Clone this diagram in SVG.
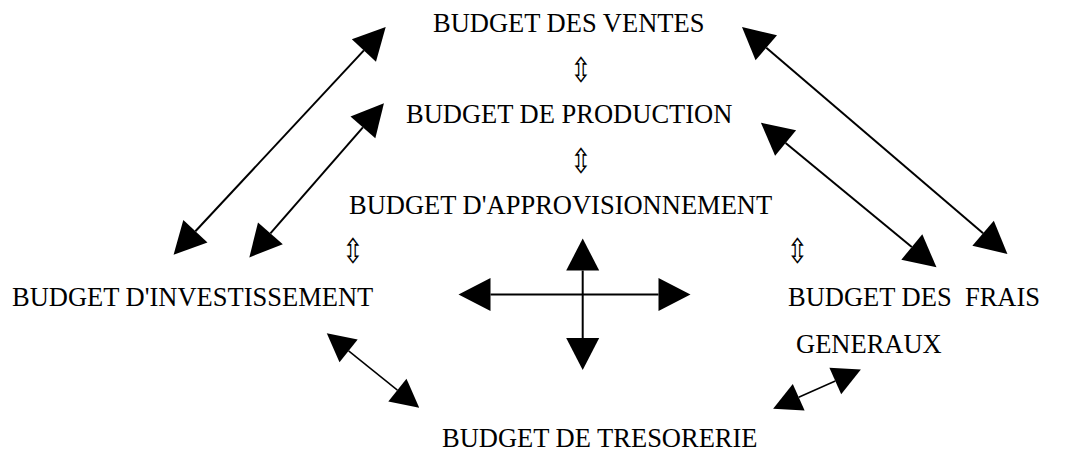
<svg xmlns="http://www.w3.org/2000/svg" width="1071" height="451" viewBox="0 0 1071 451">
<style>
text.lbl{font-family:'Liberation Serif','Times New Roman',serif;font-size:26.5px;fill:#000}
text.ud{font-family:'DejaVu Sans',sans-serif;font-size:34px;fill:#000;text-anchor:middle}
.big{stroke:#000;stroke-width:2;fill:none;marker-start:url(#hb);marker-end:url(#hb)}
.sm{stroke:#000;stroke-width:1.5;fill:none;marker-start:url(#hs);marker-end:url(#hs)}
</style>
<defs>
<marker id="hb" markerUnits="userSpaceOnUse" markerWidth="32" markerHeight="33" viewBox="0 0 32 33" refX="0" refY="16.5" orient="auto-start-reverse" overflow="visible">
<path d="M0,0 L32,16.5 L0,33 Z" fill="#000"/>
</marker>
<marker id="hs" markerUnits="userSpaceOnUse" markerWidth="28" markerHeight="29" viewBox="0 0 28 29" refX="0" refY="14.5" orient="auto-start-reverse" overflow="visible">
<path d="M0,0 L28,14.5 L0,29 Z" fill="#000"/>
</marker>
</defs>
<g id="ventes"><text class="lbl" font-family="Liberation Serif, serif" x="433" y="32">BUDGET DES VENTES</text></g>
<g id="production"><text class="lbl" font-family="Liberation Serif, serif" x="406" y="123">BUDGET DE PRODUCTION</text></g>
<g id="approvisionnement"><text class="lbl" font-family="Liberation Serif, serif" x="349" y="214">BUDGET D'APPROVISIONNEMENT</text></g>
<g id="investissement"><text class="lbl" font-family="Liberation Serif, serif" x="12" y="306">BUDGET D'INVESTISSEMENT</text></g>
<g id="frais"><text class="lbl" font-family="Liberation Serif, serif" x="788" y="306" xml:space="preserve">BUDGET DES  FRAIS</text><text class="lbl" font-family="Liberation Serif, serif" x="796" y="353">GENERAUX</text></g>
<g id="tresorerie"><text class="lbl" font-family="Liberation Serif, serif" x="442" y="446.5">BUDGET DE TRESORERIE</text></g>
<g id="connectors">
<text class="ud" transform="translate(581 82) scale(0.75 1)" x="0" y="0">⇳</text>
<text class="ud" transform="translate(581 173) scale(0.75 1)" x="0" y="0">⇳</text>
<text class="ud" transform="translate(353 263) scale(0.75 1)" x="0" y="0">⇳</text>
<text class="ud" transform="translate(797.5 263) scale(0.75 1)" x="0" y="0">⇳</text>
<line class="big" x1="195.4" y1="231.3" x2="363.9" y2="50.4"/>
<line class="big" x1="270.4" y1="233.3" x2="362.9" y2="127.4"/>
<line class="big" x1="766.3" y1="47.8" x2="983.1" y2="233.2"/>
<line class="big" x1="785.6" y1="143" x2="911.8" y2="247"/>
<line class="big" x1="582.7" y1="270.5" x2="582.7" y2="338"/>
<line class="big" x1="490.5" y1="294.5" x2="658.5" y2="294.5"/>
<line class="sm" x1="348.6" y1="350.9" x2="397.4" y2="390.1"/>
<line class="sm" x1="798.7" y1="397.3" x2="835.3" y2="381"/>
</g>
</svg>
